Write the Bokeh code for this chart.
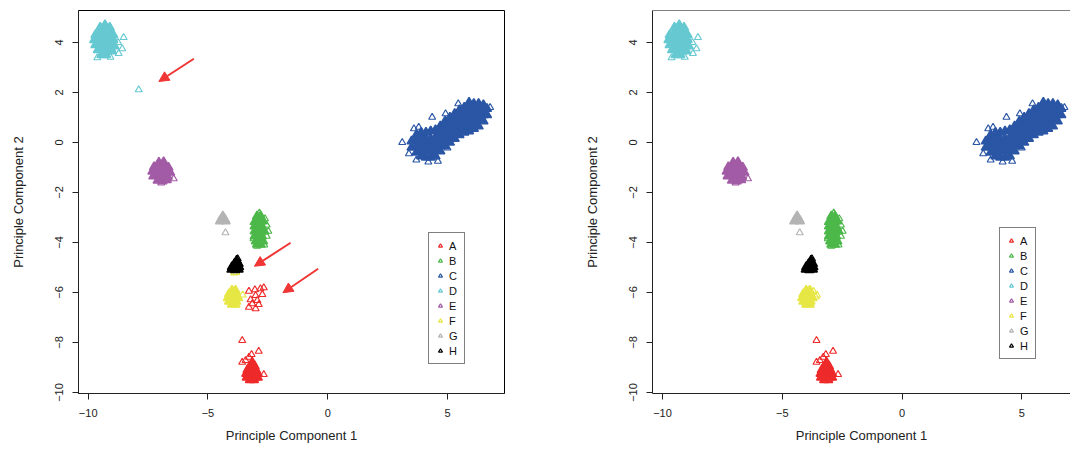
from bokeh.plotting import figure
from bokeh.models import (FixedTicker, Legend, LegendItem, Arrow, NormalHead, Span,
                          Range1d, ColumnDataSource)
from bokeh.layouts import row
from bokeh.embed import file_html
from bokeh.resources import INLINE

# ---------------- data ----------------
groups = ["A", "B", "C", "D", "E", "F", "G", "H"]
group_colors = ["#EE2A2A", "#4DB84A", "#2A56A5", "#66C9D2",
                "#A25BA5", "#E6E645", "#B4B4B4", "#000000"]

# dense cores of each cluster (shared by both panels)
A_core = [(-3.15, -8.8), (-3.25, -8.95), (-3.05, -8.95), (-3.35, -9.1), (-3.18, -9.1),
          (-3.0, -9.1), (-3.4, -9.25), (-3.22, -9.25), (-3.05, -9.25), (-2.92, -9.25),
          (-3.38, -9.4), (-3.2, -9.4), (-3.02, -9.4), (-2.92, -9.4), (-3.25, -9.5), (-3.08, -9.5)]
A_fringe = [(-3.57, -7.92), (-2.88, -8.35), (-3.18, -8.48), (-3.57, -8.79), (-3.43, -8.72),
            (-2.67, -9.28), (-3.29, -8.59)]
B_core = [(-2.95, -2.95), (-2.8, -2.95), (-3.0, -3.15), (-2.85, -3.15), (-2.7, -3.15),
          (-3.05, -3.35), (-2.9, -3.35), (-2.75, -3.35), (-3.05, -3.55), (-2.9, -3.55),
          (-2.75, -3.55), (-2.65, -3.55), (-3.05, -3.75), (-2.9, -3.75), (-2.75, -3.75),
          (-3.0, -3.95), (-2.85, -3.95), (-2.7, -3.95), (-2.95, -4.08), (-2.8, -4.08)]
B_fringe = [(-2.85, -2.82), (-2.55, -3.3), (-2.48, -3.55), (-2.55, -3.75), (-3.1, -3.85),
            (-2.65, -4.1), (-2.95, -4.15), (-2.62, -3.05), (-3.1, -3.2)]
C_core = [(3.5, -0.2), (3.5, 0.05),
          (3.7, -0.4), (3.7, -0.15), (3.7, 0.1), (3.7, 0.3),
          (3.9, -0.55), (3.9, -0.3), (3.9, -0.05), (3.9, 0.2), (3.9, 0.4),
          (4.1, -0.6), (4.1, -0.35), (4.1, -0.1), (4.1, 0.15), (4.1, 0.4),
          (4.3, -0.6), (4.3, -0.35), (4.3, -0.1), (4.3, 0.15), (4.3, 0.45),
          (4.5, -0.55), (4.5, -0.3), (4.5, -0.05), (4.5, 0.2), (4.5, 0.5),
          (4.7, -0.35), (4.7, -0.1), (4.7, 0.15), (4.7, 0.4), (4.7, 0.65),
          (4.9, -0.15), (4.9, 0.1), (4.9, 0.35), (4.9, 0.6), (4.9, 0.85),
          (5.1, 0.0), (5.1, 0.25), (5.1, 0.5), (5.1, 0.75), (5.1, 1.0),
          (5.3, 0.15), (5.3, 0.4), (5.3, 0.65), (5.3, 0.9), (5.3, 1.15),
          (5.5, 0.3), (5.5, 0.55), (5.5, 0.8), (5.5, 1.05), (5.5, 1.3),
          (5.7, 0.4), (5.7, 0.65), (5.7, 0.9), (5.7, 1.15), (5.7, 1.4),
          (5.9, 0.45), (5.9, 0.7), (5.9, 0.95), (5.9, 1.2), (5.9, 1.45), (5.9, 1.6),
          (6.1, 0.55), (6.1, 0.8), (6.1, 1.05), (6.1, 1.3), (6.1, 1.55),
          (6.3, 0.65), (6.3, 0.9), (6.3, 1.15), (6.3, 1.4), (6.3, 1.55),
          (6.5, 0.85), (6.5, 1.1), (6.5, 1.35), (6.5, 1.5), (6.65, 1.1), (6.65, 1.35),
          (4.0, -0.45), (4.2, -0.2), (4.4, 0.05), (4.6, 0.3), (4.8, 0.5), (5.0, 0.65),
          (5.2, 0.8), (5.4, 0.95), (5.6, 1.1), (5.8, 1.25), (6.0, 1.4), (6.2, 1.2),
          (6.4, 1.0), (4.4, -0.45), (4.6, -0.2), (5.0, 0.15), (5.4, 0.45), (5.8, 0.6),
          (6.2, 0.75), (3.8, -0.1), (4.0, 0.1)]
C_fringe = [(3.11, 0.0), (3.6, 0.55), (3.8, 0.61), (4.36, 1.01), (4.92, 1.15), (5.45, 1.55),
            (5.41, 0.28), (5.0, -0.22), (3.39, -0.45), (3.7, -0.7), (4.2, -0.78),
            (6.78, 1.4), (4.6, -0.75)]
D_core = [(-9.5, 4.6), (-9.3, 4.7), (-9.1, 4.6),
          (-9.7, 4.3), (-9.5, 4.4), (-9.3, 4.45), (-9.1, 4.4), (-8.95, 4.3),
          (-9.75, 4.1), (-9.55, 4.15), (-9.35, 4.2), (-9.15, 4.15), (-8.95, 4.1),
          (-9.7, 3.9), (-9.5, 3.95), (-9.3, 3.95), (-9.1, 3.9), (-8.9, 3.85),
          (-9.6, 3.7), (-9.4, 3.7), (-9.2, 3.7), (-9.0, 3.65), (-9.45, 3.5), (-9.25, 3.5),
          (-9.4, 4.55), (-9.2, 4.3), (-9.6, 4.0), (-9.4, 4.05), (-9.2, 4.0), (-9.05, 3.75),
          (-9.35, 3.85), (-9.65, 4.2)]
D_fringe = [(-8.52, 4.2), (-8.58, 3.75), (-8.73, 3.56), (-9.62, 3.39), (-9.07, 3.41),
            (-8.75, 4.0)]
E_core = [(-7.05, -0.8), (-6.85, -0.78),
          (-7.25, -0.98), (-7.05, -0.96), (-6.85, -0.95), (-6.65, -1.0),
          (-7.32, -1.16), (-7.12, -1.15), (-6.92, -1.13), (-6.72, -1.16), (-6.58, -1.2),
          (-7.28, -1.35), (-7.08, -1.34), (-6.88, -1.33), (-6.68, -1.37),
          (-7.1, -1.52), (-6.9, -1.55), (-6.72, -1.5), (-6.95, -1.05), (-7.0, -1.25)]
E_fringe = [(-6.43, -1.45), (-6.95, -1.62)]
F_core = [(-4.0, -5.92), (-3.85, -5.92), (-4.12, -6.06), (-3.97, -6.06), (-3.82, -6.06),
          (-4.17, -6.22), (-4.02, -6.22), (-3.87, -6.22), (-3.74, -6.22),
          (-4.12, -6.36), (-3.97, -6.36), (-3.82, -6.36), (-4.0, -6.48), (-3.85, -6.48)]
F_fringe = [(-3.55, -6.1)]
G_core = [(-4.38, -2.95), (-4.45, -3.08), (-4.3, -3.08), (-4.38, -3.1), (-4.5, -3.15),
          (-4.26, -3.15)]
G_fringe = [(-4.27, -3.61)]
H_core = [(-3.8, -4.72), (-3.9, -4.86), (-3.72, -4.85), (-4.0, -4.98), (-3.85, -4.98),
          (-3.7, -4.98), (-4.02, -5.08), (-3.87, -5.1), (-3.72, -5.08)]
H_fringe = [(-3.76, -4.65)]

# points only present in the left panel
A_left_extra = [(-3.29, -5.95), (-3.04, -5.89), (-2.81, -5.85), (-2.67, -5.81), (-3.01, -6.12),
                (-2.73, -6.08), (-3.22, -6.29), (-2.94, -6.32), (-3.15, -6.45), (-2.88, -6.48),
                (-3.29, -6.59), (-3.01, -6.65)]
D_left_extra = [(-7.89, 2.11)]
F_left_extra = [(-3.82, -5.2), (-3.9, -5.22)]
F_right_extra = [(-3.7, -5.95), (-3.6, -6.18)]

# red arrows drawn on the left panel: (x_start, y_start, x_end, y_end)
arrow_x0 = [-5.59, -1.55, -0.40]
arrow_y0 = [3.35, -4.01, -5.05]
arrow_x1 = [-7.05, -3.06, -1.87]
arrow_y1 = [2.44, -4.95, -6.01]

x_ticks = [-10, -5, 0, 5]
y_ticks = [-10, -8, -6, -4, -2, 0, 2, 4]
x_title = "Principle Component 1"
y_title = "Principle Component 2"

cores = {"A": A_core, "B": B_core, "C": C_core, "D": D_core,
         "E": E_core, "F": F_core, "G": G_core, "H": H_core}
fringes = {"A": A_fringe, "B": B_fringe, "C": C_fringe, "D": D_fringe,
           "E": E_fringe, "F": F_fringe, "G": G_fringe, "H": H_fringe}

FONT = "Liberation Sans"
Y_START, Y_END = -10.04, 5.28
MS = 7
CORE_MS = 9


def lab(v):
    return str(v).replace("-", "\u2212")


def make_panel(left, width, bl, br, x0, x1, legend_loc):
    p = figure(width=width, height=452, output_backend="svg", toolbar_location=None,
               x_range=Range1d(x0, x1), y_range=Range1d(Y_START, Y_END),
               min_border_left=bl, min_border_right=br, min_border_top=10,
               min_border_bottom=59, background_fill_color="white",
               border_fill_color="white")
    p.grid.visible = False
    if left:
        p.outline_line_color = "black"
        p.outline_line_width = 1
    else:
        p.outline_line_color = None
        p.add_layout(Span(location=Y_END, dimension="width", line_color="black",
                          line_width=1))

    fr = {}
    for g, c in zip(groups, group_colors):
        cx, cy = zip(*cores[g])
        p.scatter(list(cx), list(cy), marker="triangle", size=CORE_MS, line_color=c,
                  fill_color=c, line_width=1.5)
        fringe = list(fringes[g])
        if left:
            if g == "A":
                fringe += A_left_extra
            if g == "D":
                fringe += D_left_extra
            if g == "F":
                fringe += F_left_extra
        else:
            if g == "F":
                fringe += F_right_extra
        fx, fy = zip(*fringe)
        fr[g] = p.scatter(list(fx), list(fy), marker="triangle", size=MS, line_color=c,
                          fill_color=None, line_width=1.2)

    if left:
        src = ColumnDataSource(dict(x0=arrow_x0, y0=arrow_y0, x1=arrow_x1, y1=arrow_y1))
        p.add_layout(Arrow(end=NormalHead(size=10, fill_color="#F03535",
                                          line_color="#F03535", line_width=1),
                           x_start="x0", y_start="y0", x_end="x1", y_end="y1",
                           source=src, line_color="#F03535", line_width=2))

    for ax, ticks in ((p.xaxis, x_ticks), (p.yaxis, y_ticks)):
        ax.ticker = FixedTicker(ticks=ticks)
        ax.major_label_overrides = {t: lab(t) for t in ticks}
        ax.minor_tick_line_color = None
        ax.major_tick_in = 0
        ax.major_tick_out = 6
        ax.major_tick_line_color = "#222222"
        ax.axis_line_color = "#222222"
        ax.major_label_text_font = FONT
        ax.major_label_text_font_size = "11px"
        ax.major_label_text_color = "#222222"
        ax.axis_label_text_font = FONT
        ax.axis_label_text_font_size = "13px"
        ax.axis_label_text_font_style = "normal"
        ax.axis_label_text_color = "#222222"
    p.xaxis.axis_label = x_title
    p.yaxis.axis_label = y_title
    p.xaxis.major_label_standoff = 9
    p.xaxis.axis_label_standoff = 8
    p.yaxis.major_label_orientation = "vertical"
    p.yaxis.major_label_standoff = 10
    p.yaxis.axis_label_standoff = 26

    legend = Legend(items=[LegendItem(label=g, renderers=[fr[g]]) for g in groups],
                    location=legend_loc, label_text_font=FONT,
                    label_text_font_size="11px", label_text_color="#111111",
                    label_height=13, glyph_height=13, glyph_width=10, spacing=2,
                    padding=6, margin=0, label_standoff=4, label_width=8,
                    border_line_color="black", border_line_width=1.5,
                    background_fill_color="white", background_fill_alpha=1)
    p.add_layout(legend)
    return p


p1 = make_panel(True, 578, 78, 74, -10.405, 7.38, (350, 29))
p2 = make_panel(False, 492, 74, 0, -10.417, 7.034, (347, 34))
layout = row(p1, p2)

open("out.html", "w").write(file_html(layout, INLINE))
